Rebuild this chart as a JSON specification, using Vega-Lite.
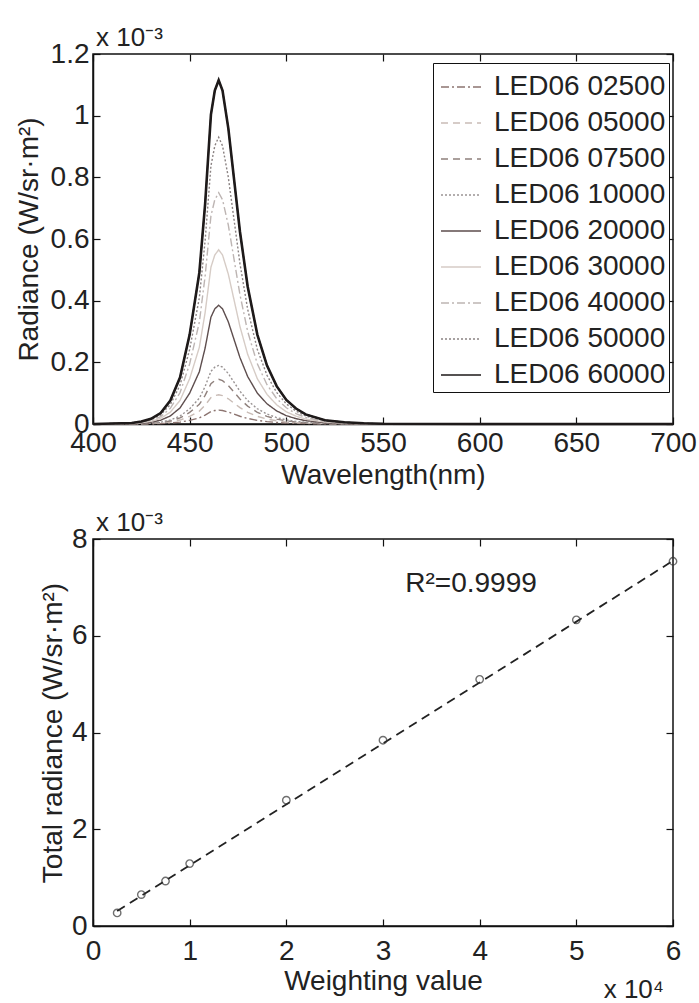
{
  "$schema": "https://vega.github.io/schema/vega-lite/v6.json",
  "padding": {"left": 14, "top": 24, "right": 0, "bottom": 0},
  "background": "white",
  "spacing": 115,
  "bounds": "flush",
  "config": {
    "font": "Liberation Sans",
    "view": {"stroke": "#111", "strokeWidth": 1.5},
    "axis": {"grid": false, "domainColor": "#111", "domainWidth": 1.5, "tickColor": "#111", "tickWidth": 1.2, "tickSize": -7, "labelFontSize": 28, "titleFontSize": 28, "titleFontWeight": "normal", "labelColor": "#222", "titleColor": "#222", "labelFlush": false, "labelOverlap": false},
    "legend": {"labelFontSize": 28, "labelColor": "#222", "symbolType": "stroke", "symbolSize": 1600, "symbolStrokeWidth": 1.5, "symbolOffset": 4, "rowPadding": 1, "padding": 3, "strokeColor": "#111", "fillColor": "white", "labelOffset": 12, "labelLimit": 400}
  },
  "datasets": {
    "spectra": [
      {"wl":400,"LED06 02500":0,"LED06 05000":0,"LED06 07500":0,"LED06 10000":0,"LED06 20000":0,"LED06 30000":0,"LED06 40000":0,"LED06 50000":0,"LED06 60000":0},
      {"wl":420,"LED06 02500":0.0001,"LED06 05000":0.0003,"LED06 07500":0.0004,"LED06 10000":0.0006,"LED06 20000":0.0012,"LED06 30000":0.0017,"LED06 40000":0.0023,"LED06 50000":0.0028,"LED06 60000":0.0033},
      {"wl":425,"LED06 02500":0.0003,"LED06 05000":0.0007,"LED06 07500":0.001,"LED06 10000":0.0013,"LED06 20000":0.0027,"LED06 30000":0.004,"LED06 40000":0.0053,"LED06 50000":0.0065,"LED06 60000":0.0078},
      {"wl":430,"LED06 02500":0.0007,"LED06 05000":0.0014,"LED06 07500":0.0022,"LED06 10000":0.0029,"LED06 20000":0.0058,"LED06 30000":0.0085,"LED06 40000":0.0113,"LED06 50000":0.014,"LED06 60000":0.0167},
      {"wl":435,"LED06 02500":0.0014,"LED06 05000":0.003,"LED06 07500":0.0046,"LED06 10000":0.0061,"LED06 20000":0.0123,"LED06 30000":0.0181,"LED06 40000":0.024,"LED06 50000":0.0298,"LED06 60000":0.0357},
      {"wl":440,"LED06 02500":0.0031,"LED06 05000":0.0065,"LED06 07500":0.0099,"LED06 10000":0.0129,"LED06 20000":0.0262,"LED06 30000":0.0384,"LED06 40000":0.051,"LED06 50000":0.0632,"LED06 60000":0.0758},
      {"wl":445,"LED06 02500":0.0061,"LED06 05000":0.0128,"LED06 07500":0.0196,"LED06 10000":0.0257,"LED06 20000":0.052,"LED06 30000":0.0763,"LED06 40000":0.1013,"LED06 50000":0.1256,"LED06 60000":0.1505},
      {"wl":450,"LED06 02500":0.0117,"LED06 05000":0.0247,"LED06 07500":0.0377,"LED06 10000":0.0494,"LED06 20000":0.1001,"LED06 30000":0.1469,"LED06 40000":0.195,"LED06 50000":0.2418,"LED06 60000":0.2899},
      {"wl":455,"LED06 02500":0.0198,"LED06 05000":0.0418,"LED06 07500":0.0638,"LED06 10000":0.0836,"LED06 20000":0.1694,"LED06 30000":0.2486,"LED06 40000":0.33,"LED06 50000":0.4092,"LED06 60000":0.4906},
      {"wl":458,"LED06 02500":0.0288,"LED06 05000":0.0608,"LED06 07500":0.0928,"LED06 10000":0.1216,"LED06 20000":0.2464,"LED06 30000":0.3616,"LED06 40000":0.48,"LED06 50000":0.5952,"LED06 60000":0.7136},
      {"wl":461,"LED06 02500":0.0405,"LED06 05000":0.0855,"LED06 07500":0.1305,"LED06 10000":0.171,"LED06 20000":0.3465,"LED06 30000":0.5085,"LED06 40000":0.675,"LED06 50000":0.837,"LED06 60000":1.0035},
      {"wl":463,"LED06 02500":0.0437,"LED06 05000":0.0922,"LED06 07500":0.1407,"LED06 10000":0.1843,"LED06 20000":0.3735,"LED06 30000":0.5481,"LED06 40000":0.7275,"LED06 50000":0.9021,"LED06 60000":1.0816},
      {"wl":465,"LED06 02500":0.045,"LED06 05000":0.095,"LED06 07500":0.145,"LED06 10000":0.19,"LED06 20000":0.385,"LED06 30000":0.565,"LED06 40000":0.75,"LED06 50000":0.93,"LED06 60000":1.115},
      {"wl":467,"LED06 02500":0.0437,"LED06 05000":0.0922,"LED06 07500":0.1407,"LED06 10000":0.1843,"LED06 20000":0.3735,"LED06 30000":0.5481,"LED06 40000":0.7275,"LED06 50000":0.9021,"LED06 60000":1.0816},
      {"wl":470,"LED06 02500":0.0387,"LED06 05000":0.0817,"LED06 07500":0.1247,"LED06 10000":0.1634,"LED06 20000":0.3311,"LED06 30000":0.4859,"LED06 40000":0.645,"LED06 50000":0.7998,"LED06 60000":0.9589},
      {"wl":473,"LED06 02500":0.032,"LED06 05000":0.0675,"LED06 07500":0.103,"LED06 10000":0.1349,"LED06 20000":0.2734,"LED06 30000":0.4012,"LED06 40000":0.5325,"LED06 50000":0.6603,"LED06 60000":0.7917},
      {"wl":476,"LED06 02500":0.0252,"LED06 05000":0.0532,"LED06 07500":0.0812,"LED06 10000":0.1064,"LED06 20000":0.2156,"LED06 30000":0.3164,"LED06 40000":0.42,"LED06 50000":0.5208,"LED06 60000":0.6244},
      {"wl":480,"LED06 02500":0.018,"LED06 05000":0.038,"LED06 07500":0.058,"LED06 10000":0.076,"LED06 20000":0.154,"LED06 30000":0.226,"LED06 40000":0.3,"LED06 50000":0.372,"LED06 60000":0.446},
      {"wl":485,"LED06 02500":0.0117,"LED06 05000":0.0247,"LED06 07500":0.0377,"LED06 10000":0.0494,"LED06 20000":0.1001,"LED06 30000":0.1469,"LED06 40000":0.195,"LED06 50000":0.2418,"LED06 60000":0.2899},
      {"wl":490,"LED06 02500":0.0077,"LED06 05000":0.0162,"LED06 07500":0.0247,"LED06 10000":0.0323,"LED06 20000":0.0655,"LED06 30000":0.0961,"LED06 40000":0.1275,"LED06 50000":0.1581,"LED06 60000":0.1896},
      {"wl":495,"LED06 02500":0.005,"LED06 05000":0.0105,"LED06 07500":0.016,"LED06 10000":0.0209,"LED06 20000":0.0424,"LED06 30000":0.0622,"LED06 40000":0.0825,"LED06 50000":0.1023,"LED06 60000":0.1227},
      {"wl":500,"LED06 02500":0.0032,"LED06 05000":0.0067,"LED06 07500":0.0102,"LED06 10000":0.0133,"LED06 20000":0.027,"LED06 30000":0.0396,"LED06 40000":0.0525,"LED06 50000":0.0651,"LED06 60000":0.0781},
      {"wl":505,"LED06 02500":0.002,"LED06 05000":0.0043,"LED06 07500":0.0065,"LED06 10000":0.0086,"LED06 20000":0.0173,"LED06 30000":0.0254,"LED06 40000":0.0338,"LED06 50000":0.0419,"LED06 60000":0.0502},
      {"wl":510,"LED06 02500":0.0013,"LED06 05000":0.0027,"LED06 07500":0.0041,"LED06 10000":0.0053,"LED06 20000":0.0108,"LED06 30000":0.0158,"LED06 40000":0.021,"LED06 50000":0.026,"LED06 60000":0.0312},
      {"wl":520,"LED06 02500":0.0005,"LED06 05000":0.001,"LED06 07500":0.0016,"LED06 10000":0.0021,"LED06 20000":0.0042,"LED06 30000":0.0062,"LED06 40000":0.0083,"LED06 50000":0.0102,"LED06 60000":0.0123},
      {"wl":530,"LED06 02500":0.0002,"LED06 05000":0.0005,"LED06 07500":0.0007,"LED06 10000":0.001,"LED06 20000":0.0019,"LED06 30000":0.0028,"LED06 40000":0.0038,"LED06 50000":0.0047,"LED06 60000":0.0056},
      {"wl":540,"LED06 02500":0.0001,"LED06 05000":0.0002,"LED06 07500":0.0003,"LED06 10000":0.0004,"LED06 20000":0.0008,"LED06 30000":0.0011,"LED06 40000":0.0015,"LED06 50000":0.0019,"LED06 60000":0.0022},
      {"wl":550,"LED06 02500":0,"LED06 05000":0,"LED06 07500":0.0001,"LED06 10000":0.0001,"LED06 20000":0.0002,"LED06 30000":0.0003,"LED06 40000":0.0004,"LED06 50000":0.0005,"LED06 60000":0.0006},
      {"wl":600,"LED06 02500":0,"LED06 05000":0,"LED06 07500":0,"LED06 10000":0,"LED06 20000":0,"LED06 30000":0,"LED06 40000":0,"LED06 50000":0,"LED06 60000":0},
      {"wl":700,"LED06 02500":0,"LED06 05000":0,"LED06 07500":0,"LED06 10000":0,"LED06 20000":0,"LED06 30000":0,"LED06 40000":0,"LED06 50000":0,"LED06 60000":0}
    ],
    "totals": [
      {"w":0.25,"r":0.27},{"w":0.5,"r":0.65},{"w":0.75,"r":0.93},{"w":1,"r":1.29},{"w":2,"r":2.6},{"w":3,"r":3.84},{"w":4,"r":5.1},{"w":5,"r":6.33},{"w":6,"r":7.54}
    ],
    "fit": [{"w":0.25,"r":0.31},{"w":6,"r":7.55}]
  },
  "vconcat": [
    {
      "width": 580,
      "height": 370,
      "resolve": {"axis": {"x": "independent", "y": "independent"}},
      "layer": [
        {
          "data": {"name": "spectra"},
          "transform": [{"fold": ["LED06 02500","LED06 05000","LED06 07500","LED06 10000","LED06 20000","LED06 30000","LED06 40000","LED06 50000","LED06 60000"], "as": ["series", "value"]}],
          "mark": {"type": "line", "strokeWidth": 1.4},
          "encoding": {
            "x": {"field": "wl", "type": "quantitative", "scale": {"domain": [400, 700], "nice": false, "zero": false}, "axis": {"title": "Wavelength(nm)", "values": [400,450,500,550,600,650,700], "format": "d", "labelPadding": 12, "titlePadding": 4}},
            "y": {"field": "value", "type": "quantitative", "scale": {"domain": [0, 1.2], "nice": false}, "axis": {"title": "Radiance (W/sr·m²)", "values": [0,0.2,0.4,0.6,0.8,1,1.2], "format": ".1~f", "labelPadding": 11, "titlePadding": 7}},
            "color": {"field": "series", "type": "nominal", "scale": {"domain": ["LED06 02500","LED06 05000","LED06 07500","LED06 10000","LED06 20000","LED06 30000","LED06 40000","LED06 50000","LED06 60000"], "range": ["#8c7470","#c9bcb6","#8f807c","#9a9494","#5e4e4e","#d6ccc6","#bdb5b3","#8a8282","#1e1a1a"]}, "legend": {"title": null, "orient": "none", "legendX": 340, "legendY": 9}},
            "strokeDash": {"field": "series", "type": "nominal", "scale": {"domain": ["LED06 02500","LED06 05000","LED06 07500","LED06 10000","LED06 20000","LED06 30000","LED06 40000","LED06 50000","LED06 60000"], "range": [[8,3,2,3],[7,5],[7,5],[2,2],[1,0],[1,0],[8,3,2,3],[2,2],[1,0]]}, "legend": {"title": null, "orient": "none", "legendX": 340, "legendY": 9}}
          }
        },
        {
          "data": {"values": [{"x": 400, "y": 1.2, "t": "x 10⁻³"}]},
          "mark": {"type": "text", "align": "left", "baseline": "alphabetic", "dx": 3, "dy": -8, "fontSize": 26, "color": "#222"},
          "encoding": {
            "x": {"field": "x", "type": "quantitative", "scale": {"domain": [400, 700], "nice": false, "zero": false}, "axis": {"orient": "top", "labels": false, "title": null, "domain": false, "values": [400,450,500,550,600,650,700]}},
            "y": {"field": "y", "type": "quantitative", "scale": {"domain": [0, 1.2], "nice": false}, "axis": {"orient": "right", "labels": false, "title": null, "domain": false, "values": [0,0.2,0.4,0.6,0.8,1,1.2]}},
            "text": {"field": "t"}
          }
        },
        {
          "data": {"name": "spectra"},
          "transform": [{"fold": ["LED06 60000"], "as": ["series", "value"]}],
          "mark": {"type": "line", "strokeWidth": 2.6, "color": "#1e1a1a"},
          "encoding": {
            "x": {"field": "wl", "type": "quantitative", "axis": null},
            "y": {"field": "value", "type": "quantitative", "axis": null}
          }
        }
      ]
    },
    {
      "width": 580,
      "height": 387,
      "resolve": {"axis": {"x": "independent", "y": "independent"}},
      "layer": [
        {
          "data": {"name": "fit"},
          "mark": {"type": "line", "strokeDash": [9, 6], "color": "#222", "strokeWidth": 1.8},
          "encoding": {
            "x": {"field": "w", "type": "quantitative", "scale": {"domain": [0, 6], "nice": false}, "axis": {"title": "Weighting value", "values": [0,1,2,3,4,5,6], "format": "d", "labelPadding": 18, "titlePadding": 2}},
            "y": {"field": "r", "type": "quantitative", "scale": {"domain": [0, 8], "nice": false}, "axis": {"title": "Total radiance (W/sr·m²)", "values": [0,2,4,6,8], "format": "d", "labelPadding": 13, "titlePadding": 4}}
          }
        },
        {
          "data": {"name": "totals"},
          "mark": {"type": "point", "shape": "circle", "filled": false, "size": 55, "color": "#333", "strokeWidth": 1.4},
          "encoding": {
            "x": {"field": "w", "type": "quantitative", "scale": {"domain": [0, 6], "nice": false}, "axis": {"orient": "top", "labels": false, "title": null, "domain": false, "values": [0,1,2,3,4,5,6]}},
            "y": {"field": "r", "type": "quantitative", "scale": {"domain": [0, 8], "nice": false}, "axis": {"orient": "right", "labels": false, "title": null, "domain": false, "values": [0,2,4,6,8]}}
          }
        },
        {
          "data": {"values": [{"x": 3.23, "y": 7.07, "t": "R²=0.9999"}]},
          "mark": {"type": "text", "align": "left", "baseline": "middle", "fontSize": 28, "color": "#222"},
          "encoding": {
            "x": {"field": "x", "type": "quantitative", "axis": null},
            "y": {"field": "y", "type": "quantitative", "axis": null},
            "text": {"field": "t"}
          }
        },
        {
          "data": {"values": [{"x": 0, "y": 8, "t": "x 10⁻³"}]},
          "mark": {"type": "text", "align": "left", "baseline": "alphabetic", "dx": 3, "dy": -8, "fontSize": 26, "color": "#222"},
          "encoding": {
            "x": {"field": "x", "type": "quantitative", "axis": null},
            "y": {"field": "y", "type": "quantitative", "axis": null},
            "text": {"field": "t"}
          }
        },
        {
          "data": {"values": [{"x": 6, "y": 0, "t": "x 10⁴"}]},
          "mark": {"type": "text", "align": "right", "baseline": "alphabetic", "dx": -9, "dy": 72, "fontSize": 26, "color": "#222"},
          "encoding": {
            "x": {"field": "x", "type": "quantitative", "axis": null},
            "y": {"field": "y", "type": "quantitative", "axis": null},
            "text": {"field": "t"}
          }
        }
      ]
    }
  ]
}
